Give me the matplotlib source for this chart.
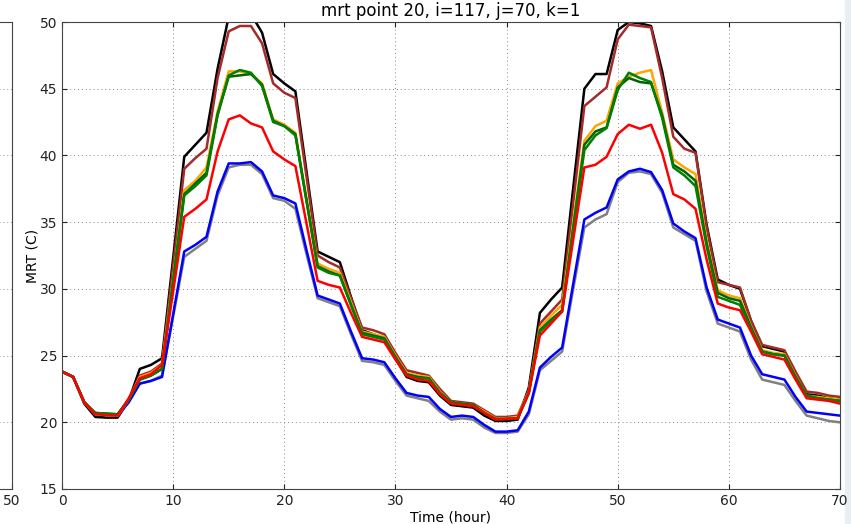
import numpy as np
import matplotlib
matplotlib.use('Agg')
import matplotlib.pyplot as plt
from matplotlib.patches import Rectangle

# hourly MRT values (hour 0 .. 70)
hours = np.arange(0, 71)

mrt_black = [23.8, 23.4, 21.4, 20.4, 20.35, 20.35, 21.6, 24.0, 24.3, 24.8,
             32.3, 39.9, 40.8, 41.7, 46.5, 50.4, 50.7, 50.6, 49.2, 46.1,
             45.4, 44.8, 38.8, 32.8, 32.4, 32.0, 29.4, 26.9, 26.6, 26.3,
             24.8, 23.4, 23.1, 23.0, 22.0, 21.3, 21.2, 21.1, 20.5, 20.1,
             20.1, 20.2, 22.6, 28.2, 29.2, 30.1, 37.6, 45.0, 46.1, 46.1,
             49.4, 50.0, 49.9, 49.7, 46.3, 42.1, 41.2, 40.3, 34.8, 30.7,
             30.3, 30.0, 27.6, 25.7, 25.5, 25.3, 23.6, 22.1, 22.0, 21.8, 21.7]

mrt_brown = [23.8, 23.4, 21.5, 20.6, 20.55, 20.5, 21.7, 23.5, 23.8, 24.4,
             31.7, 39.0, 39.8, 40.5, 45.8, 49.3, 49.7, 49.7, 48.4, 45.4,
             44.7, 44.3, 38.4, 32.5, 32.0, 31.6, 29.3, 27.1, 26.9, 26.6,
             25.2, 23.9, 23.7, 23.5, 22.5, 21.6, 21.5, 21.4, 20.9, 20.4,
             20.4, 20.5, 22.4, 27.4, 28.3, 29.2, 36.5, 43.7, 44.4, 45.1,
             48.7, 49.8, 49.7, 49.6, 45.8, 41.4, 40.5, 40.2, 34.6, 30.5,
             30.3, 30.1, 27.6, 25.8, 25.6, 25.4, 23.8, 22.3, 22.2, 22.0, 21.9]

mrt_orange = [23.8, 23.4, 21.5, 20.6, 20.55, 20.5, 21.7, 23.4, 23.7, 24.3,
              30.8, 37.4, 38.1, 39.1, 43.3, 46.3, 46.3, 46.1, 45.4, 42.7,
              42.3, 41.7, 36.8, 31.9, 31.5, 31.2, 29.0, 26.8, 26.6, 26.4,
              25.0, 23.7, 23.5, 23.4, 22.3, 21.5, 21.4, 21.3, 20.8, 20.3,
              20.3, 20.4, 22.3, 27.1, 28.0, 28.8, 35.0, 41.1, 42.2, 42.6,
              45.4, 45.9, 46.2, 46.4, 43.2, 39.7, 39.1, 38.6, 33.6, 29.9,
              29.5, 29.3, 27.2, 25.4, 25.2, 25.1, 23.5, 22.0, 21.9, 21.8, 21.7]

mrt_green = [23.8, 23.4, 21.5, 20.7, 20.65, 20.6, 21.7, 23.2, 23.5, 24.0,
             30.5, 37.0, 37.7, 38.5, 43.0, 46.0, 46.4, 46.2, 45.2, 42.5,
             42.2, 41.5, 36.6, 31.6, 31.2, 31.0, 28.8, 26.6, 26.4, 26.2,
             24.8, 23.5, 23.3, 23.3, 22.2, 21.5, 21.35, 21.25, 20.7, 20.25,
             20.25, 20.3, 22.2, 26.8, 27.6, 28.3, 34.4, 40.4, 41.5, 42.05,
             44.9, 46.2, 45.8, 45.5, 42.8, 39.1, 38.5, 37.7, 33.2, 29.4,
             29.1, 28.8, 27.0, 25.3, 25.1, 25.0, 23.4, 22.0, 21.8, 21.7, 21.6]

mrt_darkgreen = [23.8, 23.4, 21.5, 20.7, 20.65, 20.6, 21.7, 23.2, 23.5, 24.0,
                 30.6, 37.1, 37.9, 38.7, 43.1, 45.9, 46.0, 46.1, 45.3, 42.6,
                 42.2, 41.6, 36.6, 31.7, 31.3, 31.0, 28.8, 26.7, 26.5, 26.3,
                 24.9, 23.6, 23.4, 23.3, 22.2, 21.5, 21.4, 21.3, 20.7, 20.25,
                 20.25, 20.3, 22.2, 26.9, 27.7, 28.4, 34.6, 40.8, 41.8, 42.1,
                 45.1, 45.8, 45.5, 45.4, 43.0, 39.3, 38.8, 38.1, 33.4, 29.7,
                 29.3, 29.1, 27.1, 25.3, 25.1, 25.0, 23.4, 22.0, 21.8, 21.7, 21.6]

mrt_red = [23.8, 23.4, 21.5, 20.6, 20.55, 20.5, 21.8, 23.3, 23.6, 24.3,
           29.8, 35.4, 36.0, 36.7, 40.3, 42.7, 43.0, 42.4, 42.1, 40.3,
           39.7, 39.2, 34.9, 30.6, 30.3, 30.1, 28.2, 26.4, 26.2, 26.0,
           24.7, 23.5, 23.2, 23.1, 22.1, 21.4, 21.3, 21.2, 20.7, 20.2,
           20.25, 20.3, 22.2, 26.5, 27.4, 28.3, 33.7, 39.1, 39.3, 39.9,
           41.6, 42.3, 42.0, 42.3, 40.2, 37.1, 36.7, 36.0, 32.2, 28.9,
           28.6, 28.4, 26.8, 25.1, 24.9, 24.7, 23.2, 21.8, 21.7, 21.6, 21.4]

mrt_blue = [23.8, 23.4, 21.5, 20.6, 20.55, 20.5, 21.5, 22.9, 23.1, 23.4,
            28.1, 32.8, 33.3, 33.9, 37.3, 39.4, 39.4, 39.5, 38.8, 37.0,
            36.8, 36.4, 32.9, 29.5, 29.2, 28.9, 26.8, 24.8, 24.7, 24.5,
            23.3, 22.2, 22.0, 21.9, 21.0, 20.4, 20.5, 20.4, 19.8, 19.3,
            19.3, 19.4, 20.8, 24.1, 24.9, 25.6, 30.4, 35.2, 35.7, 36.1,
            38.2, 38.8, 39.0, 38.75, 37.4, 34.9, 34.3, 33.8, 30.1, 27.7,
            27.4, 27.1, 25.0, 23.6, 23.4, 23.2, 21.9, 20.8, 20.7, 20.6, 20.5]

mrt_gray = [23.8, 23.4, 21.5, 20.6, 20.55, 20.5, 21.5, 22.9, 23.1, 23.5,
            27.9, 32.4, 33.0, 33.6, 37.0, 39.1, 39.3, 39.3, 38.6, 36.8,
            36.6, 36.0, 32.6, 29.3, 29.0, 28.7, 26.6, 24.6, 24.5, 24.3,
            23.1, 22.0, 21.8, 21.6, 20.8, 20.2, 20.3, 20.2, 19.6, 19.2,
            19.2, 19.3, 20.6, 23.9, 24.6, 25.3, 30.0, 34.6, 35.2, 35.6,
            38.0, 38.7, 38.8, 38.6, 37.2, 34.6, 34.1, 33.6, 29.8, 27.4,
            27.1, 26.8, 24.7, 23.2, 23.0, 22.8, 21.6, 20.5, 20.3, 20.1, 20.0]

series = [(mrt_black, 'black'), (mrt_brown, 'brown'), (mrt_gray, 'gray'),
          (mrt_blue, 'blue'), (mrt_orange, 'orange'), (mrt_darkgreen, 'darkgreen'),
          (mrt_green, 'green'), (mrt_red, 'red')]

grid_kw = dict(linestyle=(0, (1, 3)), color='#888888', lw=0.7)

fig = plt.figure(figsize=(8.51, 5.24), dpi=100)

# piece of the neighbouring panel cut off at the left edge
ax_left = fig.add_axes([-0.3, 35 / 524, 0.3 + 12 / 851, 467 / 524])
ax_left.set_xlim(0, 50)
ax_left.set_ylim(15, 50)
ax_left.set_xticks([50])
ax_left.set_yticks(np.arange(15, 51, 5))
ax_left.set_yticklabels([])
ax_left.tick_params(direction='in', labelsize=10, colors='#222222')
ax_left.grid(True, **grid_kw)
for s in ax_left.spines.values():
    s.set_color('#444444')

ax = fig.add_axes([62 / 851, 35 / 524, 778 / 851, 467 / 524])
for vals, col in series:
    ax.plot(hours, vals, color=col, lw=1.8)

ax.set_xlim(0, 70)
ax.set_ylim(15, 50)
ax.set_xticks(np.arange(0, 71, 10))
ax.set_yticks(np.arange(15, 51, 5))
ax.tick_params(direction='in', labelsize=10, top=True, right=True, colors='#222222')
ax.grid(True, **grid_kw)
for s in ax.spines.values():
    s.set_color('#444444')
ax.set_title('mrt point 20, i=117, j=70, k=1', fontsize=12, pad=4)
ax.set_xlabel('Time (hour)', fontsize=10, labelpad=2)
ax.set_ylabel('MRT (C)', fontsize=10, labelpad=0)

# light strip at the right edge of the screenshot
fig.patches.append(Rectangle((845 / 851, 0), 6 / 851, 1, transform=fig.transFigure,
                             color='#e8eef2', zorder=-1))

plt.savefig('out.png', dpi=100)
